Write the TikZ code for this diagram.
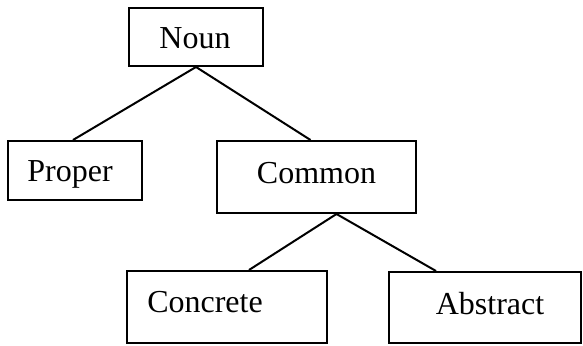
\documentclass[tikz,border=0pt]{standalone}
\usepackage{fontspec}
\setmainfont{Liberation Serif}
\usepackage{tikz}
\usetikzlibrary{positioning}

\begin{document}
\begin{tikzpicture}[x=0.5pt,y=-0.5pt, every node/.style={font=\fontsize{16}{19}\selectfont,align=center}, box/.style={draw,line width=1pt,inner sep=0pt}, line width=1pt]
\useasboundingbox (0,0) rectangle (583,346);
\node[box,minimum width=67pt,minimum height=29pt,label={[xshift=-0.5pt,yshift=-0.5pt]center:Noun}] (noun) at (196,37) {};
\node[box,minimum width=67pt,minimum height=29.5pt,label={[xshift=-2.5pt,yshift=-2pt]center:Proper}] (proper) at (75,170.5) {};
\node[box,minimum width=99.5pt,minimum height=36pt,label={[yshift=2pt]center:Common}] (common) at (316.5,177) {};
\node[box,minimum width=100pt,minimum height=36pt,label={[xshift=-11pt,yshift=2.5pt]center:Concrete}] (concrete) at (227,307) {};
\node[box,minimum width=96pt,minimum height=35.5pt,label={[xshift=2.5pt,yshift=2pt]center:Abstract}] (abstract) at (485,307.5) {};
\draw (noun.south)--([xshift=-1pt]proper.north);\draw (noun.south)--([xshift=-3pt]common.north);
\draw ([xshift=10pt]common.south)--([xshift=11pt]concrete.north);\draw ([xshift=10pt]common.south)--([xshift=-24.5pt]abstract.north);
\end{tikzpicture}
\end{document}
